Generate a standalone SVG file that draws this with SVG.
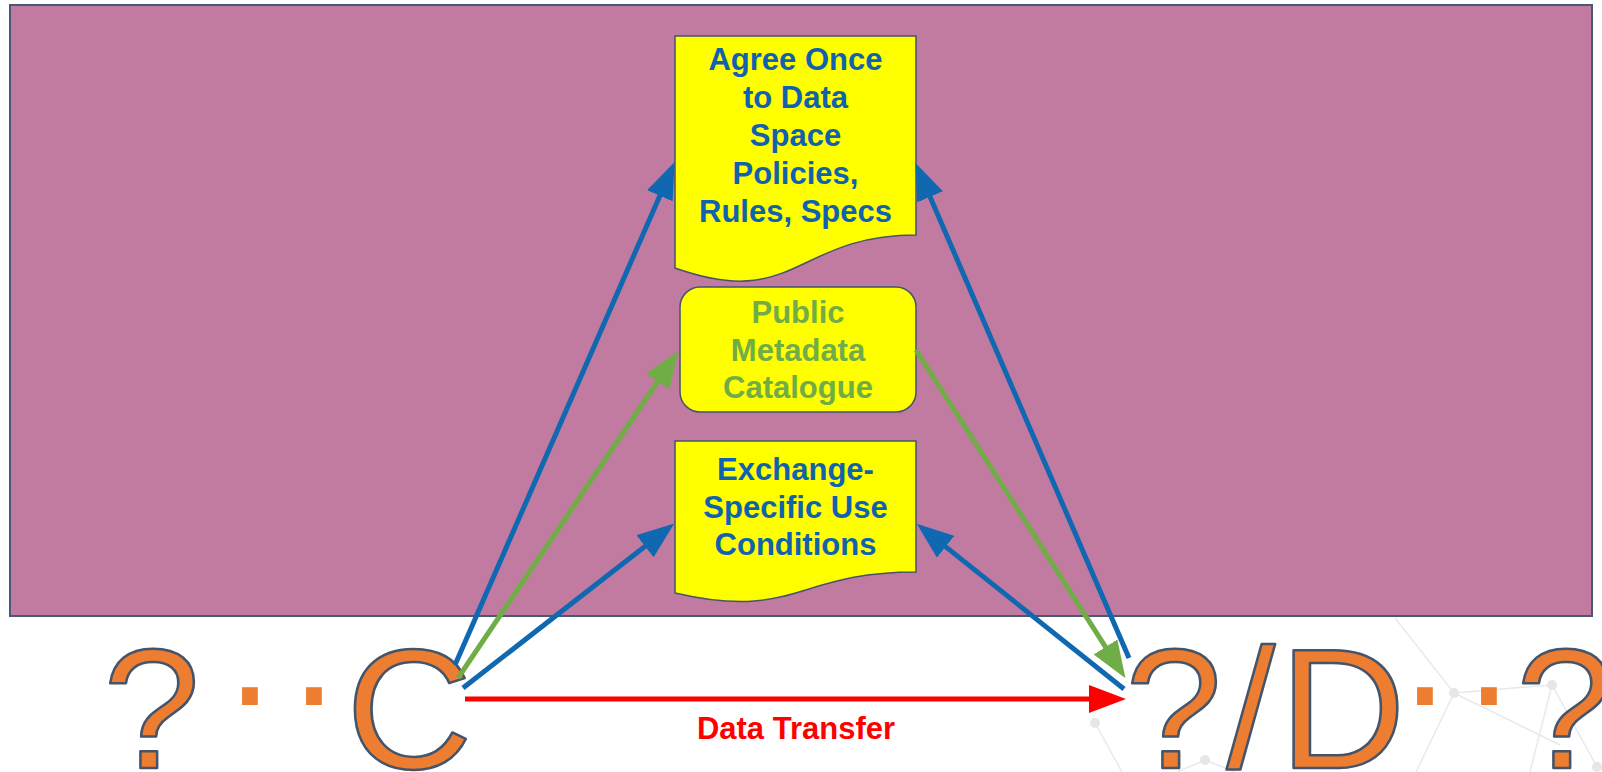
<svg xmlns="http://www.w3.org/2000/svg" width="1602" height="772" viewBox="0 0 1602 772">
<style>
.big{font-family:"Liberation Sans",Arial,sans-serif;font-size:170px;fill:#ed7d31;stroke:#44546a;stroke-width:2.5;stroke-linejoin:round}
.dot{font-family:"Liberation Sans",Arial,sans-serif;font-size:165px;fill:#ed7d31;text-anchor:middle}
.lbl{font-family:"Liberation Sans",Arial,sans-serif;font-size:31px;font-weight:bold;text-anchor:middle}
.blue{fill:#1062ae}
.green{fill:#70ad47}
.box{fill:#ffff00;stroke:#44546a;stroke-width:1.5}
.net{stroke:#e9e9e9;stroke-width:1.5;fill:none}
.node{fill:#e6e6e6}
</style>
<defs>
<marker id="ab" markerUnits="userSpaceOnUse" viewBox="0 0 37 28" refX="1" refY="14" markerWidth="37" markerHeight="28" orient="auto"><path d="M0,0 L37,14 L0,28 Z" fill="#1068b0"/></marker>
<marker id="ag" markerUnits="userSpaceOnUse" viewBox="0 0 37 28" refX="1" refY="14" markerWidth="37" markerHeight="28" orient="auto"><path d="M0,0 L37,14 L0,28 Z" fill="#70ad47"/></marker>
<marker id="ar" markerUnits="userSpaceOnUse" viewBox="0 0 37 28" refX="1" refY="14" markerWidth="37" markerHeight="28" orient="auto"><path d="M0,0 L37,14 L0,28 Z" fill="#ff0000"/></marker>
</defs>
<rect width="1602" height="772" fill="#ffffff"/>
<g id="network-bg">
<path class="net" d="M1395,618 L1454,693 L1552,685 L1597,767 M1454,693 L1416,772 M1454,693 L1560,745 M1552,685 L1530,772 M1095,723 L1122,772 M1205,760 L1177,772 M1205,760 L1235,772"/>
<circle class="node" cx="1095" cy="723" r="5"/>
<circle class="node" cx="1205" cy="760" r="5"/>
<circle class="node" cx="1454" cy="693" r="5"/>
<circle class="node" cx="1552" cy="685" r="5"/>
<circle class="node" cx="1597" cy="767" r="5"/>
</g>
<g id="data-space">
<rect x="10" y="5" width="1582" height="611" fill="#c27ba0" stroke="#4a5873" stroke-width="2"/>
</g>
<g id="policies">
<path class="box" d="M675,36 H916 V235 C795.5,235 795.5,311 675,268 Z"/>
<text class="lbl blue"><tspan x="795.5" y="70">Agree Once</tspan><tspan x="795.5" y="108">to Data</tspan><tspan x="795.5" y="146">Space</tspan><tspan x="795.5" y="184">Policies,</tspan><tspan x="795.5" y="222">Rules, Specs</tspan></text>
</g>
<g id="catalogue">
<rect class="box" x="680" y="287" width="236" height="125" rx="20" ry="20"/>
<text class="lbl green"><tspan x="798" y="323">Public</tspan><tspan x="798" y="360.5">Metadata</tspan><tspan x="798" y="398">Catalogue</tspan></text>
</g>
<g id="use-conditions">
<path class="box" d="M675,441 H916 V572 C795.5,572 795.5,621 675,593 Z"/>
<text class="lbl blue"><tspan x="795.5" y="480">Exchange-</tspan><tspan x="795.5" y="517.5">Specific Use</tspan><tspan x="795.5" y="555">Conditions</tspan></text>
</g>
<g id="consumer">
<text class="big" transform="translate(103,768) scale(1.03,1)">?</text>
<text class="dot" x="250" y="741">·</text>
<text class="dot" x="314" y="741">·</text>
<text class="big" transform="translate(346,768) scale(1.03,1)">C</text>
</g>
<g id="provider">
<text class="big" letter-spacing="4" transform="translate(1125,768) scale(1.03,1)">?/D</text>
<text class="dot" x="1425" y="741">·</text>
<text class="dot" x="1489" y="741">·</text>
<text class="big" transform="translate(1516,768) scale(1.03,1)">?</text>
</g>
<g id="connectors" fill="none" stroke-width="5">
<line x1="455" y1="665" x2="660.2" y2="194.9" stroke="#1068b0" marker-end="url(#ab)"/>
<line x1="458" y1="678" x2="658.3" y2="380.7" stroke="#70ad47" marker-end="url(#ag)"/>
<line x1="463" y1="688" x2="645.8" y2="545.7" stroke="#1068b0" marker-end="url(#ab)"/>
<line x1="465" y1="699" x2="1090" y2="699" stroke="#ff0000" marker-end="url(#ar)"/>
<line x1="1129" y1="658" x2="929.7" y2="196" stroke="#1068b0" marker-end="url(#ab)"/>
<line x1="916" y1="350" x2="1106.1" y2="647.8" stroke="#70ad47" marker-end="url(#ag)"/>
<line x1="1124" y1="689" x2="944.9" y2="546.1" stroke="#1068b0" marker-end="url(#ab)"/>
<text x="796" y="739" class="lbl" fill="#ff0000" stroke="none">Data Transfer</text>
</g>
</svg>
